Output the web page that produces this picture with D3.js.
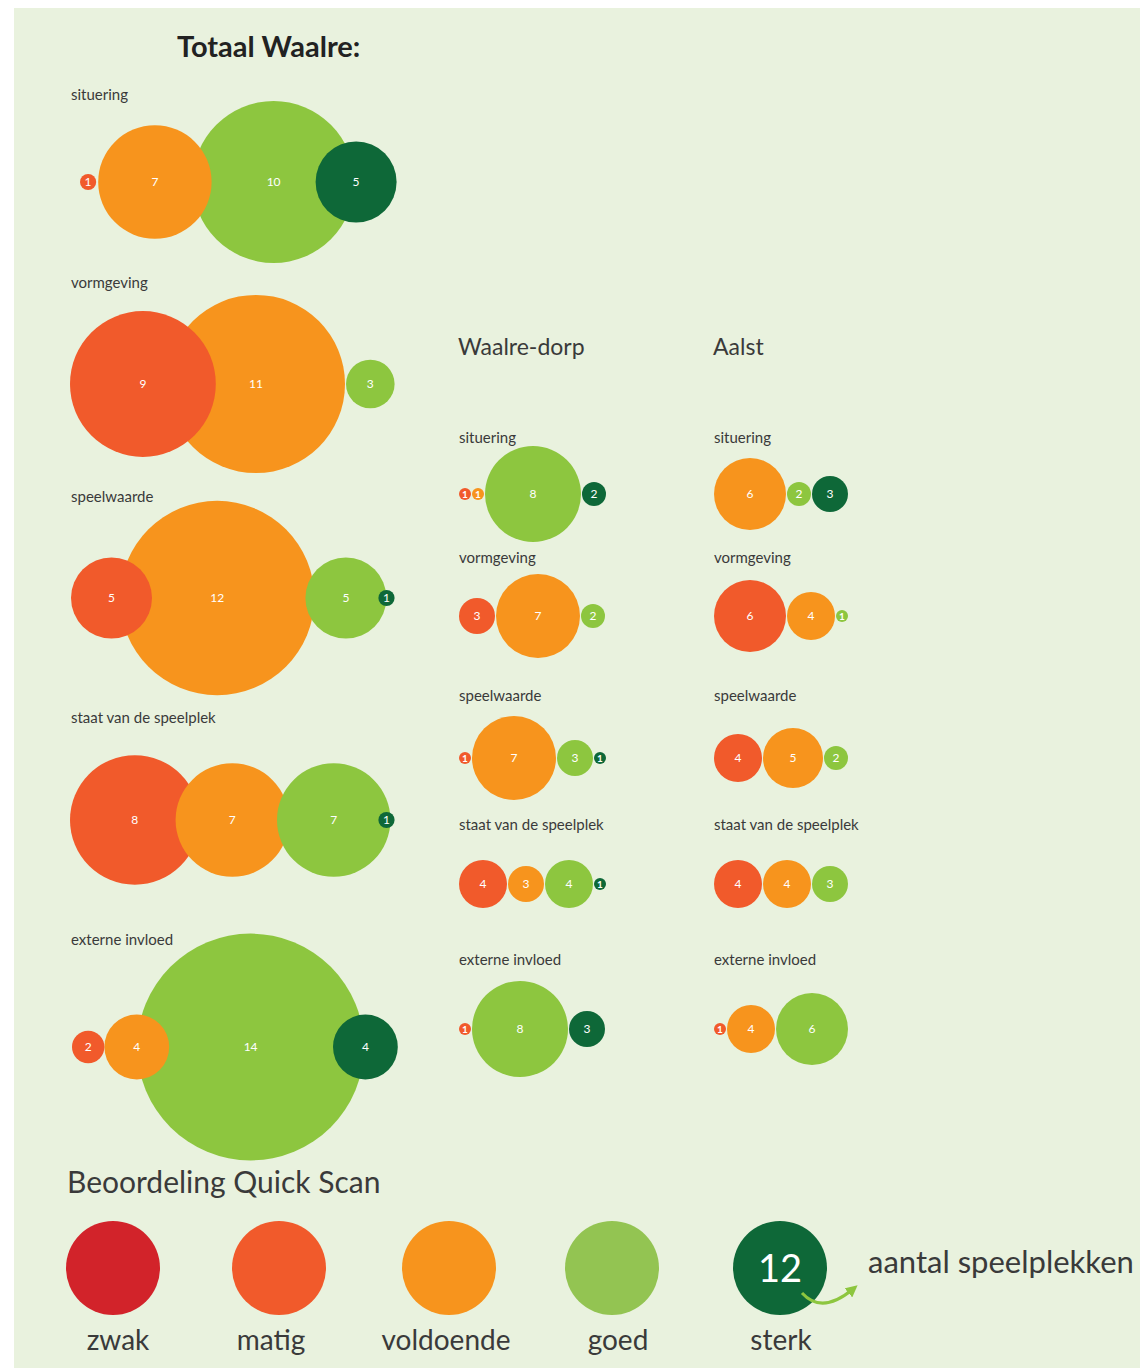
<!DOCTYPE html>
<html>
<head>
<meta charset="utf-8">
<script src="https://cdn.jsdelivr.net/npm/d3@7"></script>
<style>
  html, body { margin: 0; padding: 0; background: #fff; }
  svg { display: block; }
</style>
</head>
<body>
<div id="chart"></div>
<script>
// ── Data ──
const CATEGORIES = ['zwak', 'matig', 'voldoende', 'goed', 'sterk'];
const ASPECTS = ['situering', 'vormgeving', 'speelwaarde', 'staat van de speelplek', 'externe invloed'];

// aantal speelplekken per aspect, per categorie (zwak..sterk)
const TOTAAL = [
    [0, 1, 7, 10, 5],
    [0, 9, 11, 3, 0],
    [0, 5, 12, 5, 1],
    [0, 8, 7, 7, 1],
    [0, 2, 4, 14, 4],
];
const DORP = [
    [0, 1, 1, 8, 2],
    [0, 3, 7, 2, 0],
    [0, 1, 7, 3, 1],
    [0, 4, 3, 4, 1],
    [0, 1, 0, 8, 3],
];
const AALST = [
    [0, 0, 6, 2, 3],
    [0, 6, 4, 1, 0],
    [0, 4, 5, 2, 0],
    [0, 4, 4, 3, 0],
    [0, 1, 4, 6, 0],
];
const LEGEND_VALUE = 12;

// ── Style ──
const COLORS = { zwak: '#d2232a', matig: '#f15a2b', voldoende: '#f7941d', goed: '#8dc63f', sterk: '#0e6838' };
const LEGEND_COLORS = { zwak: '#d2232a', matig: '#f15a2b', voldoende: '#f7941d', goed: '#93c452', sterk: '#0e6838' };
const FONT = "Lato, 'Open Sans', sans-serif";
const TEXT = '#3a3a3a';

// ── Layout (gaps between neighbouring bubbles; negative = overlap) ──
const TOT_LEFT = [80, 70, 71, 70, 72];
const TOT_GAPS = [[2, -19, -39], [-49, 1], [-32, -9, -8], [-24, -12, -12], [0, -32, -31]];
const TOT_ROW_Y = [182, 384, 598, 820, 1047];
const TOT_LABEL_Y = [100, 288, 502, 723, 945];
const SMALL_ROW_Y = [494, 616, 758, 884, 1029];
const SMALL_LABEL_Y = [443, 563, 701, 830, 965];
const LEG_X = { zwak: 113, matig: 279, voldoende: 449, goed: 612, sterk: 780 };
const LEG_LABEL_DX = { zwak: 5, matig: -8, voldoende: -3, goed: 6, sterk: 1 };

const width = 1140, height = 1368;

const svg = d3.select('#chart').append('svg')
    .attr('width', width)
    .attr('height', height);

svg.append('rect')
    .attr('x', 14).attr('y', 8)
    .attr('width', width - 14).attr('height', height - 8)
    .attr('fill', '#e9f2de');

const rTot = d3.scaleLinear().domain([0, 14]).range([0, 113.4]);
const rSmall = d3.scaleLinear().domain([0, 8]).range([0, 48]);

// Draw one row of bubbles, laid out left to right; bigger bubbles sit underneath
function drawRow(g, values, rScale, left, cy, gaps) {
    const items = [];
    values.forEach((v, i) => { if (v > 0) items.push({ v, cat: CATEGORIES[i] }); });
    let x = left;
    items.forEach((d, i) => {
        d.r = rScale(d.v);
        if (i > 0) x += (typeof gaps === 'number' ? gaps : gaps[i - 1]);
        d.cx = x + d.r;
        x += 2 * d.r;
    });
    const sorted = items.slice().sort((a, b) => b.r - a.r);
    g.append('g').selectAll('circle')
        .data(sorted)
        .join('circle')
        .attr('cx', d => d.cx)
        .attr('cy', cy)
        .attr('r', d => d.r)
        .attr('fill', d => COLORS[d.cat]);
    g.append('g').selectAll('text')
        .data(items)
        .join('text')
        .text(d => d.v)
        .attr('x', d => d.cx)
        .attr('y', cy)
        .attr('text-anchor', 'middle')
        .attr('dy', '0.36em')
        .attr('fill', '#fff')
        .attr('font-family', FONT)
        .attr('font-size', d => d.r < 8 ? '10px' : '12px')
        .attr('font-weight', d => d.r < 8 ? 'bold' : 'normal');
}

function label(x, y, txt, size, weight, color) {
    svg.append('text')
        .attr('x', x).attr('y', y)
        .attr('font-family', FONT)
        .attr('font-size', size + 'px')
        .attr('font-weight', weight || 'normal')
        .attr('fill', color || TEXT)
        .text(txt);
}

// ── Totaal Waalre ──
label(177, 57, 'Totaal Waalre:', 29, 'bold', '#222');
const gTot = svg.append('g');
ASPECTS.forEach((a, i) => {
    label(71, TOT_LABEL_Y[i], a, 15);
    drawRow(gTot, TOTAAL[i], rTot, TOT_LEFT[i], TOT_ROW_Y[i], TOT_GAPS[i]);
});

// ── Waalre-dorp & Aalst ──
[[DORP, 'Waalre-dorp', 459], [AALST, 'Aalst', 714]].forEach(([data, title, x0]) => {
    label(x0 - 1, 355, title, 23);
    const g = svg.append('g');
    ASPECTS.forEach((a, i) => {
        label(x0, SMALL_LABEL_Y[i], a, 15);
        drawRow(g, data[i], rSmall, x0, SMALL_ROW_Y[i], 1);
    });
});

// ── Legend ──
label(67, 1193, 'Beoordeling Quick Scan', 30);
const leg = svg.append('g').selectAll('g')
    .data(CATEGORIES)
    .join('g')
    .attr('transform', d => `translate(${LEG_X[d]},1268)`);
leg.append('circle')
    .attr('r', 47)
    .attr('fill', d => LEGEND_COLORS[d]);
leg.append('text')
    .text(d => d)
    .attr('x', d => LEG_LABEL_DX[d])
    .attr('y', 82)
    .attr('text-anchor', 'middle')
    .attr('font-family', FONT)
    .attr('font-size', '28px')
    .attr('fill', TEXT);
leg.filter(d => d === 'sterk').append('text')
    .text(LEGEND_VALUE)
    .attr('dy', '0.36em')
    .attr('text-anchor', 'middle')
    .attr('font-family', FONT)
    .attr('font-size', '38px')
    .attr('fill', '#fff');

label(868, 1273, 'aantal speelplekken', 31);

svg.append('defs').append('marker')
    .attr('id', 'arrow')
    .attr('viewBox', '0 0 10 10')
    .attr('refX', 5).attr('refY', 5)
    .attr('markerWidth', 4).attr('markerHeight', 4)
    .attr('orient', 'auto')
    .append('path')
    .attr('d', 'M0,0 L10,5 L0,10 z')
    .attr('fill', '#8dc63f');

svg.append('path')
    .attr('d', 'M802,1293 Q822,1315 853,1289')
    .attr('fill', 'none')
    .attr('stroke', '#8dc63f')
    .attr('stroke-width', 3)
    .attr('marker-end', 'url(#arrow)');
</script>
</body>
</html>
